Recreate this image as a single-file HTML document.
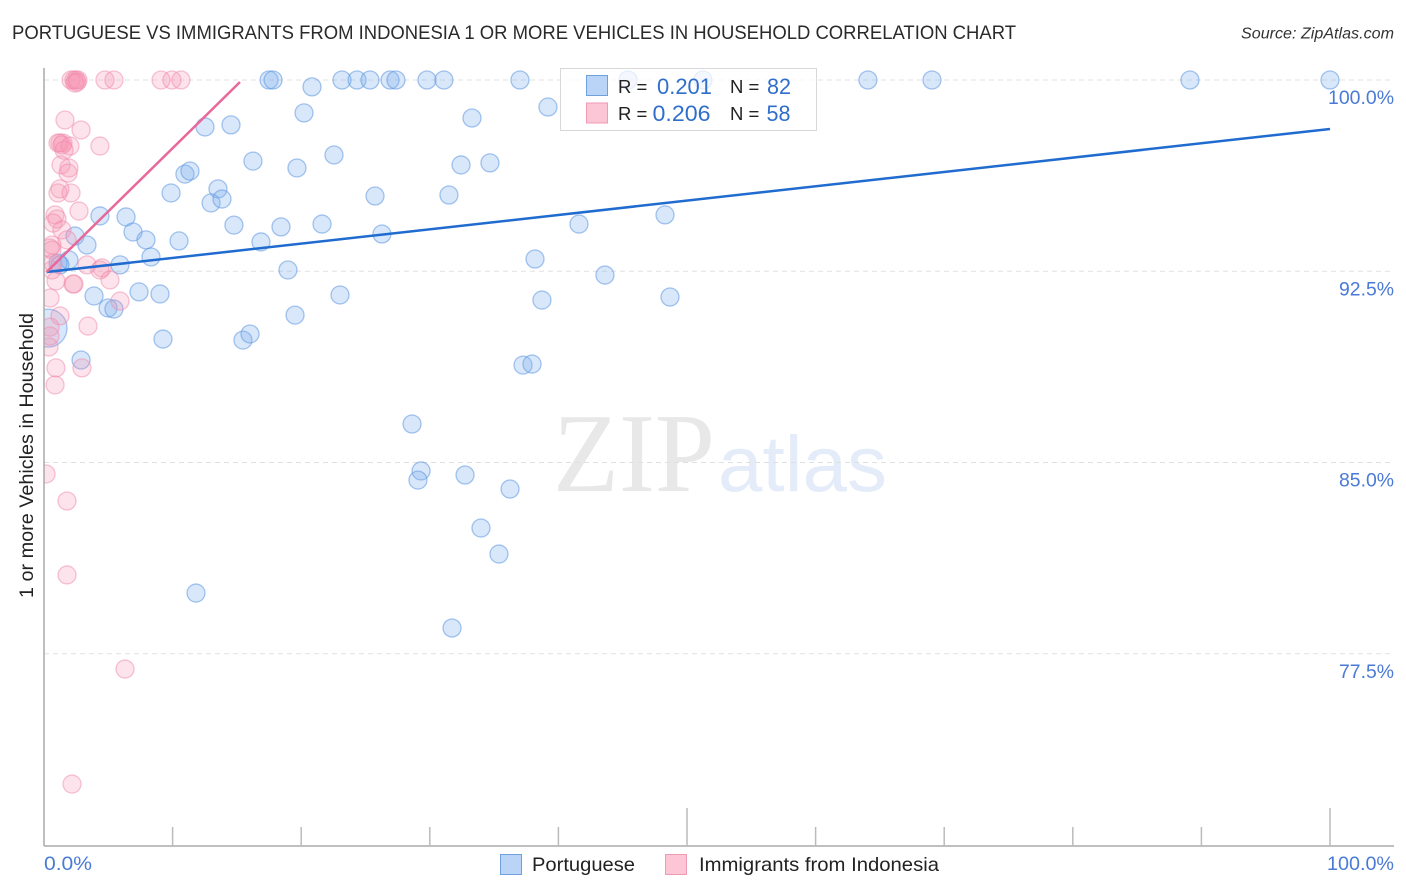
<!DOCTYPE html>
<html lang="en">
<head>
<meta charset="utf-8">
<title>Portuguese vs Immigrants from Indonesia Correlation Chart</title>
<style>
html,body{margin:0;padding:0;background:#fff;}
#stage{position:relative;width:1406px;height:892px;overflow:hidden;}
svg{display:block;font-family:"Liberation Sans",sans-serif;}
</style>
</head>
<body>
<div id="stage">
<svg id="chart" width="1406" height="892" viewBox="0 0 1406 892">
  <defs><clipPath id="plot-clip"><rect x="44" y="60" width="1350" height="786"></rect></clipPath></defs>
  <text x="12" y="39" font-size="19" fill="#2a2a2a" textLength="1004" lengthAdjust="spacingAndGlyphs">PORTUGUESE VS IMMIGRANTS FROM INDONESIA 1 OR MORE VEHICLES IN HOUSEHOLD CORRELATION CHART</text>
  <text x="1241" y="38.500" font-size="15.500" font-style="italic" fill="#333" textLength="153" lengthAdjust="spacingAndGlyphs">Source: ZipAtlas.com</text>

  <g>
    <text x="553" y="491" font-size="112" font-family="'Liberation Serif',serif" fill="#e8e8e8" textLength="162" lengthAdjust="spacingAndGlyphs">ZIP</text>
    <text x="718" y="491" font-size="79" fill="#e4ecf9" textLength="169" lengthAdjust="spacingAndGlyphs">atlas</text>
  </g>

  <g id="grid"></g>
  <g id="points" clip-path="url(#plot-clip)"></g>
  <g id="trends"></g>
  <g id="axes"></g>

  <g>
    <rect x="560.500" y="68.500" width="256" height="62" fill="#fff" fill-opacity="0.72" stroke="#d8d8d8"></rect>
    <rect x="586.500" y="75.500" width="21" height="20" fill="#b9d4f7" stroke="#6fa0dd"></rect>
    <rect x="586.500" y="103" width="21" height="20" fill="#fcc6d6" stroke="#f09ab4"></rect>
    <text x="618" y="93" font-size="18.500" fill="#222">R =</text>
    <text x="657" y="94" font-size="22" fill="#2f6fcb" textLength="55" lengthAdjust="spacingAndGlyphs">0.201</text>
    <text x="730" y="93" font-size="18.500" fill="#222">N =</text>
    <text x="767" y="94" font-size="22" fill="#2f6fcb" textLength="24" lengthAdjust="spacingAndGlyphs">82</text>
    <text x="618" y="120" font-size="18.500" fill="#222">R =</text>
    <text x="652.500" y="121" font-size="22" fill="#2f6fcb" textLength="58" lengthAdjust="spacingAndGlyphs">0.206</text>
    <text x="730" y="120" font-size="18.500" fill="#222">N =</text>
    <text x="766.500" y="121" font-size="22" fill="#2f6fcb" textLength="24" lengthAdjust="spacingAndGlyphs">58</text>
  </g>

  <text transform="translate(33,598) rotate(-90)" x="0" y="0" font-size="19" fill="#222" textLength="285" lengthAdjust="spacingAndGlyphs">1 or more Vehicles in Household</text>

  <g>
    <rect x="500.500" y="854.500" width="21" height="20" fill="#b9d4f7" stroke="#6fa0dd"></rect>
    <text x="532" y="871" font-size="19.500" fill="#222" textLength="103" lengthAdjust="spacingAndGlyphs">Portuguese</text>
    <rect x="665.500" y="854.500" width="21" height="20" fill="#fcc6d6" stroke="#f09ab4"></rect>
    <text x="699" y="871" font-size="19.500" fill="#222" textLength="240" lengthAdjust="spacingAndGlyphs">Immigrants from Indonesia</text>
  </g>
</svg>
</div>
<script>
const portugueseX = [17.50,17.81,23.17,24.34,25.35,26.91,27.37,29.78,31.10,37.01,45.41,51.24,64.07,69.05,89.11,100,
  20.84,20.22,39.19,12.52,14.54,33.28,22.55,16.25,32.43,34.68,10.96,11.35,19.67,13.53,9.88,12.99,13.84,25.74,31.49,
  4.35,6.38,14.77,18.43,21.62,41.60,48.29,6.92,7.93,10.50,16.87,26.28,2.41,3.34,1.94,8.32,5.91,1.24,1.09,38.18,18.97,43.62,
  3.89,7.39,9.02,23.02,38.72,48.68,4.98,5.44,19.52,9.25,15.47,16.02,2.88,37.25,37.95,
  28.62,29.32,29.08,32.74,36.24,33.98,35.38,11.82,31.73];
const portugueseY = [100,100,100,100,100,100,100,100,100,100,100,100,100,100,100,100,
  99.73,98.71,98.94,98.16,98.24,98.51,97.06,96.82,96.67,96.75,96.31,96.43,96.55,95.73,95.57,95.18,95.33,95.45,95.49,
  94.67,94.63,94.31,94.24,94.35,94.35,94.71,94.04,93.73,93.69,93.65,93.96,93.88,93.53,92.94,93.06,92.75,92.75,92.82,92.98,92.55,92.35,
  91.53,91.69,91.61,91.57,91.37,91.49,91.06,91.02,90.78,89.84,89.80,90.04,89.02,88.82,88.86,
  86.51,84.67,84.31,84.51,83.96,82.43,81.41,79.88,78.51];
const portugueseLargeX = [0.31];
const portugueseLargeY = [90.27];
const indonesiaX = [2.10,2.33,2.49,2.64,2.57,2.41,4.74,5.44,9.10,9.95,10.65,
  1.63,2.88,4.35,1.24,1.09,1.48,1.40,2.02,1.56,1.32,1.94,1.87,1.24,1.09,2.10,2.72,0.86,1.01,0.70,1.40,1.79,0.62,0.47,0.62,0.70,0.62,
  3.34,4.51,4.35,0.93,5.13,2.33,2.26,0.47,5.91,1.24,3.42,0.47,0.47,0.39,0.93,2.95,0.86,0.16,1.79,1.79,6.30,2.18];
const indonesiaY = [100,100,100,100,99.92,99.88,100,100,100,100,100,
  98.43,98.04,97.41,97.53,97.53,97.53,97.45,97.41,97.25,96.67,96.55,96.35,95.73,95.57,95.57,94.86,94.71,94.55,94.39,94.12,93.73,93.53,93.41,93.33,92.82,92.55,
  92.75,92.63,92.55,92.12,92.16,92.00,92.00,91.45,91.33,90.75,90.35,90.31,89.96,89.53,88.71,88.71,88.04,84.55,83.49,80.59,76.90,72.39];
const portugueseTrendX = [0.2,100];
const portugueseTrendY = [92.47,98.08];
const indonesiaTrendX = [0.2,15.24];
const indonesiaTrendY = [92.47,99.92];
const yTickValues = [100,92.5,85,77.5];
const yTickLabels = ["100.0%","92.5%","85.0%","77.5%"];
const xTickValues = [10,20,30,40,50,60,70,80,90,100];
const xMajorTicks = [50,100];
const xEndLabels = ["0.0%","100.0%"];

const NS = "http://www.w3.org/2000/svg";
const xScale = v => 44 + v * 12.86;
const yScale = v => 80 + (100 - v) * 25.5;
function make(tag, attrs, parent) {
  const el = document.createElementNS(NS, tag);
  for (const k in attrs) el.setAttribute(k, attrs[k]);
  parent.appendChild(el);
  return el;
}
const gridG = document.getElementById("grid");
const pointsG = document.getElementById("points");
const trendsG = document.getElementById("trends");
const axesG = document.getElementById("axes");
const tickBlue = "#4a7ad6";

yTickValues.forEach((v, i) => {
  const line = make("line", {x1: 44, x2: 1394, y1: yScale(v), y2: yScale(v), stroke: "#e0e0e0", "stroke-width": 1, "stroke-dasharray": "5 4"}, gridG);
  
  
  const label = make("text", {x: 1394, y: yScale(v) + 24, "text-anchor": "end", "font-size": 19.500, fill: tickBlue, textLength: yTickLabels[i].length * 11, lengthAdjust: "spacingAndGlyphs"}, axesG);
  label.textContent = yTickLabels[i];
  
  
});

const left = make("line", {x1: 44, x2: 44, y1: 68, y2: 846, stroke: "#aaaaaa", "stroke-width": 1.500}, axesG);


const bottom = make("line", {x1: 44, x2: 1394, y1: 846, y2: 846, stroke: "#aaaaaa", "stroke-width": 1.500}, axesG);


xTickValues.forEach(v => {
  const top = xMajorTicks.includes(v) ? 808 : 827;
  const tick = make("line", {x1: xScale(v), x2: xScale(v), y1: top, y2: 846, stroke: "#bbbbbb", "stroke-width": 1.500}, axesG);
  
  
});
const x0Label = make("text", {x: 44, y: 870, "font-size": 19.500, fill: tickBlue, textLength: 48, lengthAdjust: "spacingAndGlyphs"}, axesG);
x0Label.textContent = xEndLabels[0];


const x1Label = make("text", {x: 1394, y: 870, "text-anchor": "end", "font-size": 19.500, fill: tickBlue, textLength: 67, lengthAdjust: "spacingAndGlyphs"}, axesG);
x1Label.textContent = xEndLabels[1];



const blueStyle = {fill: "#7fb0f0", "fill-opacity": 0.3, stroke: "#5f97e0", "stroke-opacity": 0.55, "stroke-width": 1.300};
const pinkStyle = {fill: "#f98fb0", "fill-opacity": 0.25, stroke: "#f08aac", "stroke-opacity": 0.5, "stroke-width": 1.300};

portugueseX.forEach((v, i) => {
  const c = make("circle", Object.assign({cx: xScale(v), cy: yScale(portugueseY[i]), r: 9}, blueStyle), pointsG);
  
  
});
portugueseLargeX.forEach((v, i) => {
  const c = make("circle", Object.assign({cx: xScale(v), cy: yScale(portugueseLargeY[i]), r: 19}, blueStyle), pointsG);
  
  
});
indonesiaX.forEach((v, i) => {
  const c = make("circle", Object.assign({cx: xScale(v), cy: yScale(indonesiaY[i]), r: 9}, pinkStyle), pointsG);
  
  
});

const blueTrend = make("line", {x1: xScale(portugueseTrendX[0]), y1: yScale(portugueseTrendY[0]), x2: xScale(portugueseTrendX[1]), y2: yScale(portugueseTrendY[1]), stroke: "#1f6bd0", "stroke-width": 2.500}, trendsG);


const pinkTrend = make("line", {x1: xScale(indonesiaTrendX[0]), y1: yScale(indonesiaTrendY[0]), x2: xScale(indonesiaTrendX[1]), y2: yScale(indonesiaTrendY[1]), stroke: "#e8689a", "stroke-width": 2.500}, trendsG);


</script>
</body>
</html>
